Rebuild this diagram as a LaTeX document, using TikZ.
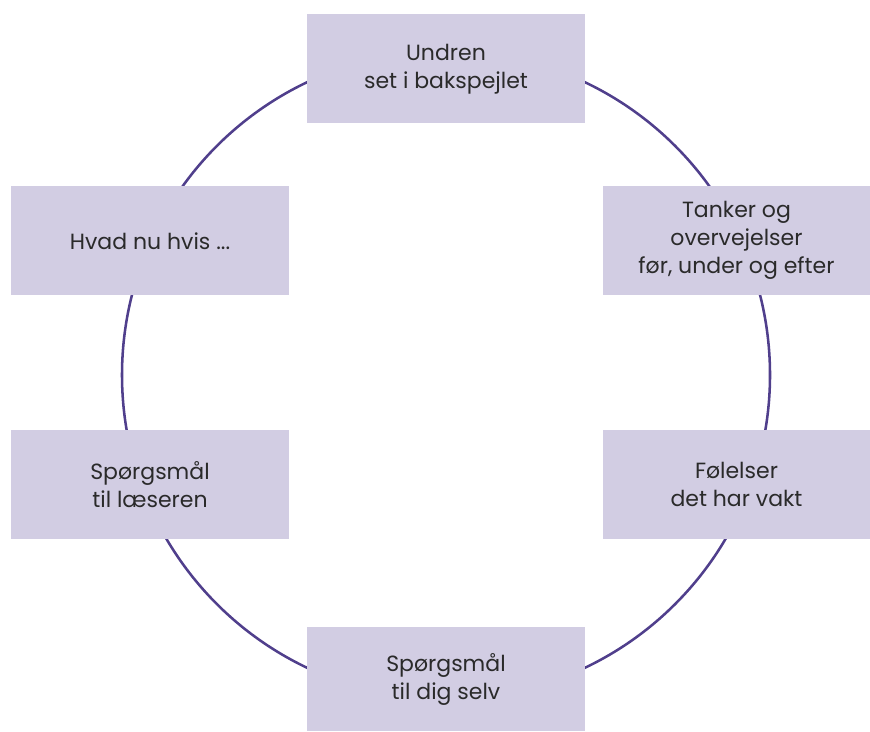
\documentclass[tikz,border=0pt]{standalone}
\usepackage{fontspec}
\setmainfont{Poppins}
\definecolor{boxfill}{HTML}{D2CDE3}
\definecolor{ring}{HTML}{503F8C}
\definecolor{txt}{HTML}{2A2A2A}
\begin{document}
\begin{tikzpicture}[x=0.75pt,y=-0.75pt,
  stepbox/.style={rectangle, fill=boxfill, draw=none, inner sep=0pt,
    minimum width=208.5pt, minimum height=82pt, align=center,
    text=txt, font=\fontsize{16.5}{21}\selectfont}]
\useasboundingbox (0,0) rectangle (870,731);
\coordinate (c) at (446,375);
\draw[ring, line width=1.9pt] (c) circle[radius=243pt];
\node[stepbox] (top) at (446,68.8) {Undren\\set i bakspejlet};
\node[stepbox] (lu) at (150,240.8) {Hvad nu hvis ...};
\node[stepbox, minimum width=200.25pt] (ru) at (736.5,240.8) {Tanker og\\overvejelser\\før, under og efter};
\node[stepbox] (ll) at (150,484.5) {Spørgsmål\\til læseren};
\node[stepbox, minimum width=200.25pt] (rl) at (736.5,484.5) {Følelser\\det har vakt};
\node[stepbox, minimum height=78pt] (bot) at (446,679) {Spørgsmål\\til dig selv};
\end{tikzpicture}
\end{document}
